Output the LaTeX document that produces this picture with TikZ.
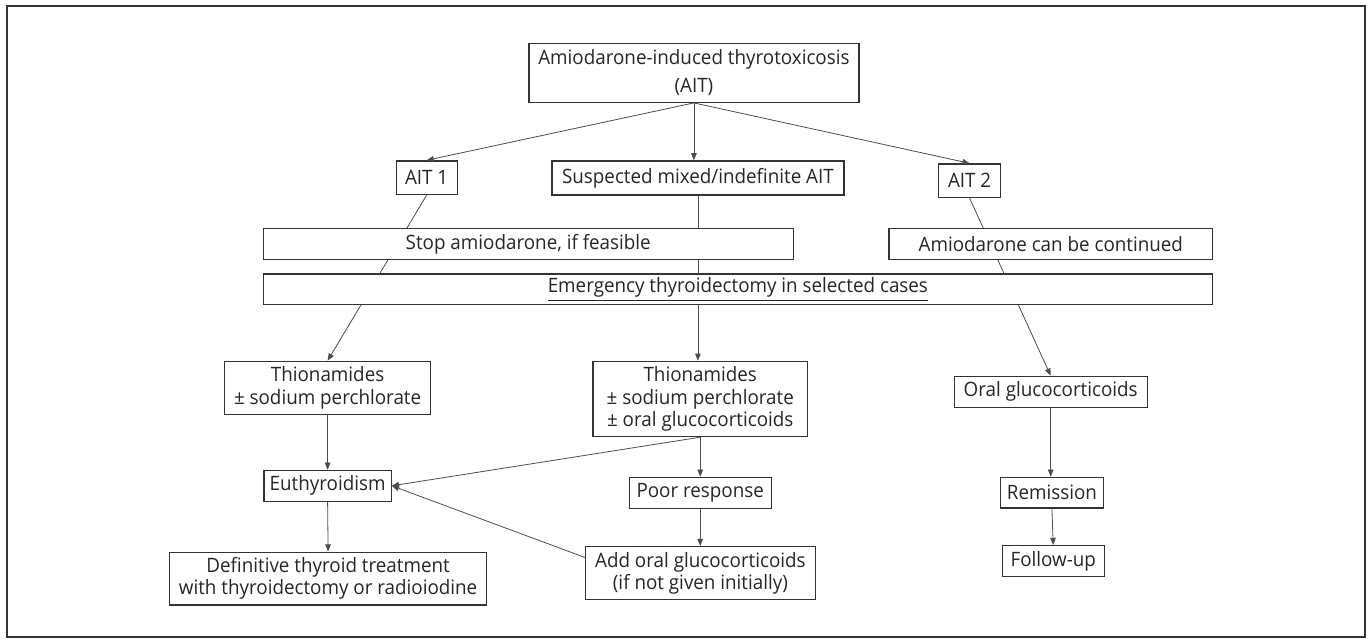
\documentclass[tikz,border=0pt]{standalone}
\usepackage{fontspec}
\setmainfont{Open Sans}[FakeStretch=0.95]
\usetikzlibrary{arrows.meta,calc,backgrounds}
\begin{document}
\begin{tikzpicture}[x=0.5pt,y=-0.5pt,
  box/.style={draw=black!80, line width=0.6pt, fill=white, inner sep=0pt, align=center,
    anchor=north west, text=black!85, font=\fontsize{9.9}{11.2}\selectfont},
  conn/.style={draw=black!70, line width=0.4pt, -{Triangle[length=3.6pt,width=2.8pt]}}]
\useasboundingbox (0,0) rectangle (1370,638);
\draw[draw=black!80, line width=1pt] (6.7,6) rectangle (1365,637);

\node[box, minimum width=165pt, minimum height=29.5pt] (top) at (528.3,42.7)
  {Amiodarone-induced thyrotoxicosis\\[3pt](AIT)};
\node[box, minimum width=30.5pt, minimum height=16.85pt] (ait1) at (395.5,160.3) {AIT 1};
\node[box, minimum width=146pt, minimum height=17pt] (mixed) at (551.3,160.3) {Suspected mixed/indefinite AIT};
\node[box, minimum width=31pt, minimum height=16.85pt] (ait2) at (938,163.3) {AIT 2};
\node[box, minimum width=265.15pt, minimum height=15.35pt] (stop) at (262.5,228) {Stop amiodarone, if feasible};
\node[box, minimum width=161.8pt, minimum height=15.5pt] (cont) at (888.4,227.7) {Amiodarone can be continued};
\node[box, minimum width=474.75pt, minimum height=15.35pt] (emerg) at (262.5,273.3) {\underline{Emergency thyroidectomy in selected cases}};
\node[box, minimum width=103pt, minimum height=26.65pt] (thL) at (224,360.7) {Thionamides\\± sodium perchlorate};
\node[box, minimum width=107.25pt, minimum height=37.65pt] (thM) at (592.4,360.7) {Thionamides\\± sodium perchlorate\\± oral glucocorticoids};
\node[box, minimum width=96.5pt, minimum height=15.5pt] (oral) at (953.6,375.7) {Oral glucocorticoids};
\node[box, minimum width=63.6pt, minimum height=15.5pt] (euthy) at (263.4,469.7) {Euthyroidism};
\node[box, minimum width=71pt, minimum height=15.5pt] (poor) at (628.6,476.7) {Poor response};
\node[box, minimum width=51.5pt, minimum height=15.3pt] (remis) at (999.8,476.7) {Remission};
\node[box, minimum width=158.5pt, minimum height=26.4pt] (defin) at (169,551.5) {Definitive thyroid treatment\\with thyroidectomy or radioiodine};
\node[box, minimum width=115pt, minimum height=26.5pt] (add) at (584.8,546) {Add oral glucocorticoids\\(if not given initially)};
\node[box, minimum width=51pt, minimum height=15.5pt] (follow) at (1001.6,545) {Follow-up};

\begin{scope}[on background layer]
  \draw[conn] (ait1.south) -- (thL.north);
  \draw[conn] (mixed.south) -- (mixed.south |- thM.north);
  \draw[conn] (ait2.south) -- (oral.north);
\end{scope}

\draw[conn] (top.south) -- (ait1.north);
\draw[conn] (top.south) -- (top.south |- mixed.north);
\draw[conn] (top.south) -- (ait2.north);
\draw[conn] (thL.south) -- (euthy.north);
\draw[conn] (euthy.south) -- (defin.north);
\draw[conn] (thM.south) -- (euthy.east);
\draw[conn] (thM.south) -- (thM.south |- poor.north);
\draw[conn] (poor.south) -- (poor.south |- add.north);
\draw[conn] ($(add.north west)!0.21!(add.south west)$) -- (euthy.east);
\draw[conn] (oral.south) -- (oral.south |- remis.north);
\draw[conn] (remis.south) -- (follow.north);
\end{tikzpicture}
\end{document}
